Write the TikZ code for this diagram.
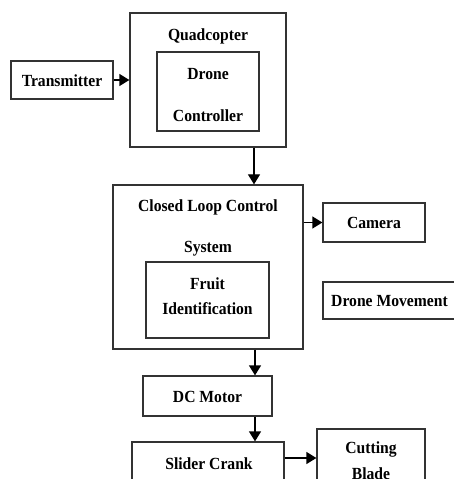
\documentclass[tikz,border=0pt]{standalone}
\usepackage{fontspec}
\setmainfont{Liberation Serif}[FakeStretch=0.92]
\usetikzlibrary{arrows.meta}
\begin{document}
\begin{tikzpicture}[x=1bp,y=-1bp,
  box/.style={draw=black!80,line width=1.3bp,inner sep=0pt},
  lbl/.style={inner sep=0pt,font=\fontsize{17bp}{20bp}\selectfont\bfseries},
  arr/.style={line width=1.3bp,-{Triangle[length=10bp,width=12bp]}}]
\useasboundingbox (0,0) rectangle (454,479);
\clip (0,0) rectangle (454,479);
% boxes
\node[box,minimum width=156bp,minimum height=134bp] (quad) at (208,80) {};
\node[box,minimum width=102bp,minimum height=79bp] (dctrl) at (208,91.5) {};
\node[box,minimum width=102bp,minimum height=38bp] (tx) at (62,80) {};
\node[box,minimum width=190bp,minimum height=164bp] (cls) at (208,267) {};
\node[box,minimum width=123bp,minimum height=76bp] (fruit) at (207.5,300) {};
\node[box,minimum width=102bp,minimum height=39bp] (cam) at (374,222.5) {};
\node[box,minimum width=133bp,minimum height=37bp] (move) at (389.5,300.5) {};
\node[box,minimum width=129bp,minimum height=40bp] (dcm) at (207.5,396) {};
\node[box,minimum width=152bp,minimum height=48bp] (slider) at (208,466) {};
\node[box,minimum width=108bp,minimum height=66bp] (blade) at (371,462) {};
% labels
\node[lbl] (tquad) at (208,36) {Quadcopter};
\node[lbl] (tdrone) at (208,74) {Drone};
\node[lbl] (tctrl) at (208,116) {Controller};
\node[lbl] (ttx) at (62,81) {Transmitter};
\node[lbl] (tcls) at (208,207) {Closed Loop Control};
\node[lbl] (tsys) at (208,249) {System};
\node[lbl] (tfruit) at (207.5,284) {Fruit};
\node[lbl] (tident) at (207.5,309) {Identification};
\node[lbl] (tcam) at (374,223) {Camera};
\node[lbl] (tmove) at (389.5,301) {Drone Movement};
\node[lbl] (tdcm) at (207.5,397) {DC Motor};
\node[lbl] (tslider) at (209,464) {Slider Crank};
\node[lbl] (tcut) at (371,449) {Cutting};
\node[lbl] (tblade) at (371,474) {Blade};
% connectors
\draw[arr] (tx.east) -- (quad.west |- tx.east);
\draw[arr] (quad.south -| 254,0) -- (cls.north -| 254,0);
\draw[arr] (cls.east |- cam.west) -- (cam.west);
\draw[arr] (cls.south -| 255,0) -- (dcm.north -| 255,0);
\draw[arr] (dcm.south -| 255,0) -- (slider.north -| 255,0);
\draw[arr] (slider.east |- 0,458) -- (blade.west |- 0,458);
\end{tikzpicture}
\end{document}
